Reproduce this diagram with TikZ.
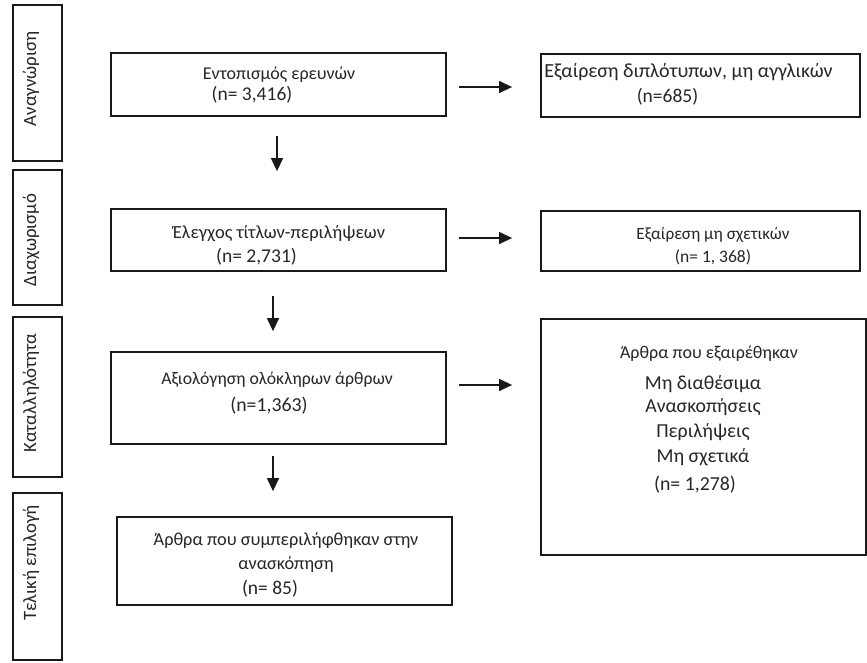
\documentclass[tikz,border=0pt]{standalone}
\usepackage{fontspec}
\setmainfont{Carlito}
\usetikzlibrary{arrows.meta}
\newcommand\fs[1]{\fontsize{#1}{24}\selectfont}
\begin{document}
\begin{tikzpicture}[x=1pt,y=-1pt,
  box/.style={draw=black!90, line width=1.8pt, inner sep=0pt},
  txt/.style={font=\fs{19.5}, align=center, inner sep=0pt, text=black!85},
  side/.style={font=\fontsize{18.8}{23}\selectfont, inner sep=0pt, rotate=90, text=black!85},
  arr/.style={line width=1.3pt, draw=black!90, -{Triangle[length=13pt,width=12pt]}}]
\useasboundingbox (0,0) rectangle (867,662);
% side boxes
\node[box, minimum width=49pt, minimum height=156pt] (s1) at (37.5,83) {};
\node[box, minimum width=49pt, minimum height=135pt] (s2) at (37.5,237.5) {};
\node[box, minimum width=49pt, minimum height=160pt] (s3) at (37.5,397) {};
\node[box, minimum width=49pt, minimum height=167pt] (s4) at (37.5,576.5) {};
\node[side] (s1t) at (31,79) {Αναγνώριση};
\node[side] (s2t) at (31,240) {Διαχωρισμό};
\node[side] (s3t) at (31,393) {Καταλληλότητα};
\node[side] (s4t) at (31,563) {Τελική επιλογή};
% main boxes
\node[box, minimum width=335pt, minimum height=63pt] (b1) at (278.5,84.5) {};
\node[box, minimum width=335pt, minimum height=62pt] (b2) at (278.5,240) {};
\node[box, minimum width=335pt, minimum height=92pt] (b3) at (278.5,398) {};
\node[box, minimum width=335pt, minimum height=88pt] (b4) at (284.5,561) {};
\node[txt] (b1t) at (279,85.5) {{\fs{18}Εντοπισμός ερευνών}\\[-3pt]{\fs{19.5}(n= 3,416)}\hspace*{54pt}};
\node[txt] (b2t) at (279,245) {{\fs{18.5}Έλεγχος τίτλων-περιλήψεων}\\{\fs{19.5}(n= 2,731)}\hspace*{45pt}};
\node[txt] (b3t) at (277,393.5) {{\fs{17.7}Αξιολόγηση ολόκληρων άρθρων}\\[3pt]{\fs{19.8}(n=1,363)}\hspace*{16pt}};
\node[txt] (b4t) at (286,565) {{\fs{18.3}Άρθρα που συμπεριλήφθηκαν στην}\\{\fs{18.3}ανασκόπηση}\\[1pt]{\fs{19.5}(n= 85)}\hspace*{32pt}};
% right boxes
\node[box, minimum width=319pt, minimum height=63pt] (r1) at (700.5,85.5) {};
\node[box, minimum width=319pt, minimum height=60pt] (r2) at (700.5,241) {};
\node[box, minimum width=325pt, minimum height=236pt] (r3) at (703.5,437) {};
\node[txt] (r1t) at (688.5,84) {{\fs{20}Εξαίρεση διπλότυπων, μη αγγλικών}\\[1pt]{\fs{19.5}(n=685)}\hspace*{42pt}};
\node[txt] (r2t) at (713,246) {{\fs{17.2}Εξαίρεση μη σχετικών}\\[-1pt]{\fs{17.5}(n= 1, 368)}};
\node[txt] (r3t) at (703,420) {\hspace*{12pt}{\fs{18}Άρθρα που εξαιρέθηκαν}\\[7pt]{\fs{19.8}Μη διαθέσιμα}\\[-1pt]{\fs{19.8}Ανασκοπήσεις}\hspace*{6pt}\\[1pt]{\fs{19.8}Περιλήψεις}\hspace*{26pt}\\[1pt]{\fs{19.8}Μη σχετικά}\hspace*{12pt}\\[4pt]{\fs{19.8}(n= 1,278)}\hspace*{16pt}};
% horizontal arrows
\draw[arr, shorten <=12pt, shorten >=28pt] ([yshift=-2.5pt]b1.east) -- ([yshift=-2.5pt]b1.east -| r1.west);
\draw[arr, shorten <=12pt, shorten >=28pt] ([yshift=2pt]b2.east) -- ([yshift=2pt]b2.east -| r2.west);
\draw[arr, shorten <=12pt, shorten >=28pt] ([yshift=13pt]b3.east) -- ([yshift=13pt]b3.east -| r3.west);
% vertical arrows
\draw[arr, shorten <=19pt, shorten >=37pt] ([xshift=-1.5pt]b1.south) -- ([xshift=-1.5pt]b1.south |- b2.north);
\draw[arr, shorten <=24pt, shorten >=20pt] ([xshift=-5.5pt]b2.south) -- ([xshift=-5.5pt]b2.south |- b3.north);
\draw[arr, shorten <=11pt, shorten >=25pt] ([xshift=-5.5pt]b3.south) -- ([xshift=-5.5pt]b3.south |- b4.north);
\end{tikzpicture}
\end{document}
